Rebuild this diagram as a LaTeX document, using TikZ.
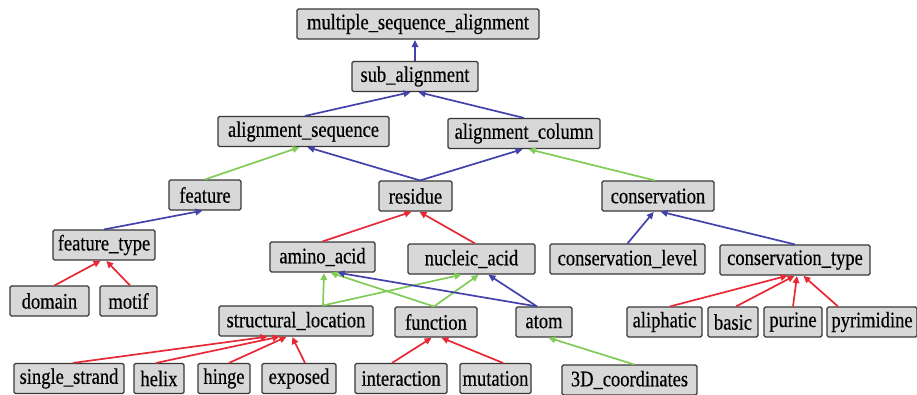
\documentclass[tikz,border=0pt]{standalone}
\usepackage{fontspec}
\setmainfont{Liberation Serif}
\newfontfamily\lblfont{Liberation Serif}[FakeBold=0.4]
\usetikzlibrary{arrows.meta}
\definecolor{eblue}{RGB}{66,66,170}
\definecolor{ered}{RGB}{232,40,52}
\definecolor{egreen}{RGB}{128,204,86}
\definecolor{boxfill}{RGB}{216,216,216}
\definecolor{boxline}{RGB}{55,55,55}
\newcommand{\lbl}[1]{\scalebox{1}[1.2]{#1}}
\tikzset{
  box/.style={draw=boxline, fill=boxfill, line width=1.1pt, rounded corners=1.5pt,
    minimum height=30pt, inner sep=0pt, font=\lblfont\fontsize{18.5}{20}\selectfont},
  edge/.style={line width=1.7pt, -{Triangle[length=7pt,width=6.5pt]}, shorten >=0.5pt},
  bl/.style={edge, draw=eblue, fill=eblue},
  rd/.style={edge, draw=ered, fill=ered},
  gr/.style={edge, draw=egreen, fill=egreen}
}
\begin{document}
\begin{tikzpicture}[x=1pt,y=-1pt]
\useasboundingbox (0,0) rectangle (917,394);
% nodes
\node[box, minimum width=242pt] (msa) at (418,24) {\lbl{multiple\_sequence\_alignment}};
\node[box, minimum width=126pt] (sub) at (415,76.5) {\lbl{sub\_alignment}};
\node[box, minimum width=171pt] (aseq) at (303.5,131.5) {\lbl{alignment\_sequence}};
\node[box, minimum width=152pt] (acol) at (524,133.5) {\lbl{alignment\_column}};
\node[box, minimum width=72pt] (feat) at (205,195) {\lbl{feature}};
\node[box, minimum width=73pt] (res) at (415.5,196) {\lbl{residue}};
\node[box, minimum width=112pt] (cons) at (658,196) {\lbl{conservation}};
\node[box, minimum width=102pt] (ftype) at (104,245) {\lbl{feature\_type}};
\node[box, minimum width=105pt] (amino) at (322.5,257) {\lbl{amino\_acid}};
\node[box, minimum width=127pt] (nucl) at (471.5,259) {\lbl{nucleic\_acid}};
\node[box, minimum width=155pt] (clev) at (627.5,259) {\lbl{conservation\_level}};
\node[box, minimum width=150pt] (ctype) at (795,260) {\lbl{conservation\_type}};
\node[box, minimum width=79pt] (domain) at (49.5,301) {\lbl{domain}};
\node[box, minimum width=57pt] (motif) at (128.5,301) {\lbl{motif}};
\node[box, minimum width=154pt] (sloc) at (296,321) {\lbl{structural\_location}};
\node[box, minimum width=82pt] (func) at (436,322) {\lbl{function}};
\node[box, minimum width=56pt] (atom) at (544,322) {\lbl{atom}};
\node[box, minimum width=75pt] (aliph) at (664.5,322) {\lbl{aliphatic}};
\node[box, minimum width=50pt] (basic) at (733,322) {\lbl{basic}};
\node[box, minimum width=58pt] (purine) at (793,322) {\lbl{purine}};
\node[box, minimum width=90pt] (pyrim) at (872,322) {\lbl{pyrimidine}};
\node[box, minimum width=110pt] (sstrand) at (69,378.5) {\lbl{single\_strand}};
\node[box, minimum width=50pt] (helix) at (159,378.5) {\lbl{helix}};
\node[box, minimum width=52pt] (hinge) at (224,378.5) {\lbl{hinge}};
\node[box, minimum width=74pt] (exposed) at (299,378.5) {\lbl{exposed}};
\node[box, minimum width=92pt] (inter) at (401,378.5) {\lbl{interaction}};
\node[box, minimum width=71pt] (mut) at (495.5,378.5) {\lbl{mutation}};
\node[box, minimum width=135pt] (coord) at (629.5,380) {\lbl{3D\_coordinates}};
% edges
\draw[bl] (sub.north) -- ([xshift=-3pt]msa.south);
\draw[bl] ([xshift=1.5pt]aseq.north) -- ([xshift=-4pt]sub.south);
\draw[bl] (acol.north) -- ([xshift=3pt]sub.south);
\draw[gr] (feat.north) -- ([xshift=-3.5pt]aseq.south);
\draw[bl] ([xshift=4.5pt]res.north) -- ([xshift=3.5pt]aseq.south);
\draw[bl] ([xshift=4.5pt]res.north) -- ([xshift=-1pt]acol.south);
\draw[gr] ([xshift=-3pt]cons.north) -- ([xshift=4pt]acol.south);
\draw[bl] (ftype.north) -- ([xshift=-2pt]feat.south);
\draw[rd] (amino.north) -- ([xshift=-3.5pt]res.south);
\draw[rd] ([xshift=3.5pt]nucl.north) -- ([xshift=3.5pt]res.south);
\draw[bl] (clev.north) -- ([xshift=-4pt]cons.south);
\draw[bl] (ctype.north) -- ([xshift=2pt]cons.south);
\draw[rd] ([xshift=5pt]domain.north) -- ([xshift=-3pt]ftype.south);
\draw[rd] ([xshift=1.5pt]motif.north) -- ([xshift=2pt]ftype.south);
\draw[gr] ([xshift=27pt]sloc.north) -- ([xshift=1.5pt]amino.south);
\draw[gr] ([xshift=27pt]sloc.north) -- ([xshift=-9.5pt]nucl.south);
\draw[gr] ([xshift=-2pt]func.north) -- ([xshift=7.5pt]amino.south);
\draw[gr] ([xshift=-2pt]func.north) -- ([xshift=7.5pt]nucl.south);
\draw[bl] ([xshift=-7pt]atom.north) -- ([xshift=14.5pt]amino.south);
\draw[bl] ([xshift=-7pt]atom.north) -- ([xshift=16.5pt]nucl.south);
\draw[rd] ([xshift=4pt]sstrand.north) -- ([xshift=-28pt]sloc.south);
\draw[rd] ([xshift=-3pt]helix.north) -- ([xshift=-16pt]sloc.south);
\draw[rd] ([xshift=5pt]hinge.north) -- ([xshift=-9pt]sloc.south);
\draw[rd] ([xshift=6pt]exposed.north) -- ([xshift=-4pt]sloc.south);
\draw[rd] ([xshift=-9pt]inter.north) -- ([xshift=-4pt]func.south);
\draw[rd] ([xshift=7.5pt]mut.north) -- ([xshift=5pt]func.south);
\draw[gr] ([xshift=4.5pt]coord.north) -- ([xshift=4pt]atom.south);
\draw[rd] ([xshift=5.5pt]aliph.north) -- ([xshift=-7pt]ctype.south);
\draw[rd] ([xshift=3pt]basic.north) -- (ctype.south);
\draw[rd] (purine.north) -- ([xshift=2pt]ctype.south);
\draw[rd] ([xshift=-34pt]pyrim.north) -- ([xshift=8pt]ctype.south);
\end{tikzpicture}
\end{document}
